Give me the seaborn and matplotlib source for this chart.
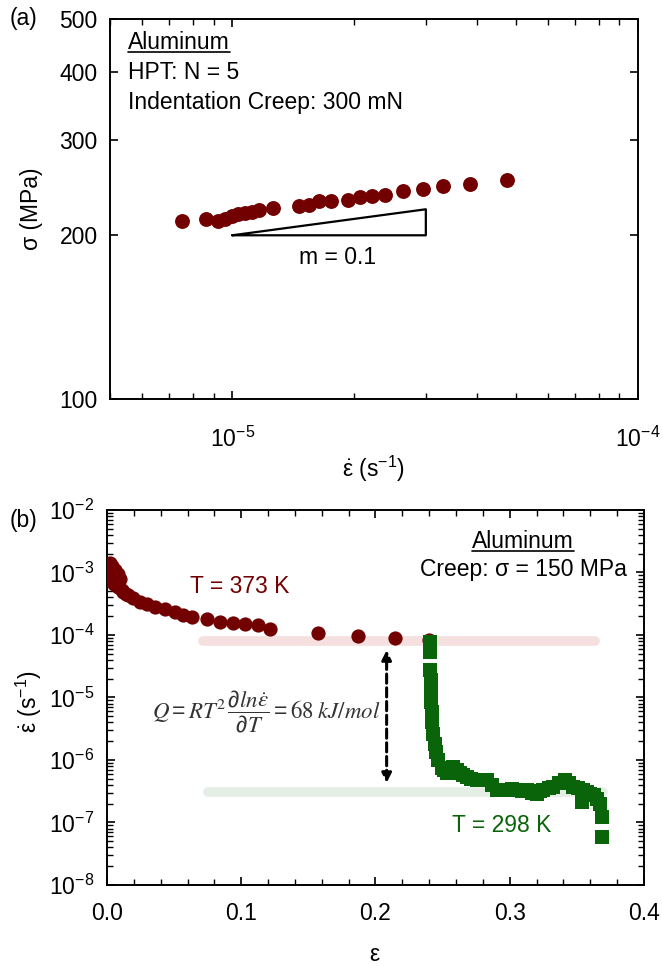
import numpy as np
import pandas as pd
import matplotlib
matplotlib.use("Agg")
import matplotlib.pyplot as plt
import seaborn as sns
from matplotlib.lines import Line2D
from matplotlib.ticker import FixedLocator, FixedFormatter, NullFormatter, MultipleLocator, FormatStrFormatter, LogLocator

# ---------------- data: panel (a) ----------------
rate_a = [7.54e-6, 8.63e-6, 9.25e-6, 9.61e-6, 1.00e-5, 1.036e-5, 1.077e-5, 1.118e-5,
          1.161e-5, 1.264e-5, 1.462e-5, 1.542e-5, 1.632e-5, 1.753e-5, 1.934e-5,
          2.066e-5, 2.208e-5, 2.382e-5, 2.642e-5, 2.958e-5, 3.314e-5, 3.855e-5, 4.75e-5]
stress_a = [212.1, 214.2, 212.7, 214.5, 216.7, 218.8, 219.4, 220.8, 222.9, 224.5, 226.1,
            227.7, 231.0, 231.6, 232.6, 234.9, 235.9, 237.5, 241.0, 243.4, 246.2, 248.6, 253.2]
tri_rate = [1e-5, 3e-5, 3e-5, 1e-5]
tri_stress = [200, 200, 223.3, 200]
xticks_a = [1e-5, 1e-4]
xticklabels_a = [r"$10^{-5}$", r"$10^{-4}$"]
yticks_a = [100, 200, 300, 400, 500]

# ---------------- data: panel (b) ----------------
strain_373 = [0.0010, 0.0020, 0.0020, 0.0030, 0.0040, 0.0050, 0.0060, 0.0080, 0.0080, 0.0100,
              0.0110, 0.0121, 0.0140, 0.0159, 0.0196, 0.0246, 0.0296, 0.0358, 0.0432, 0.0507,
              0.0568, 0.0631, 0.0743, 0.0842, 0.0941, 0.1028, 0.1127, 0.1214, 0.1574, 0.1872,
              0.2145, 0.2400]
rate_373 = [1.00e-3, 1.40e-3, 8.5e-4, 7.2e-4, 1.25e-3, 6.5e-4, 1.10e-3, 9.5e-4, 5.8e-4, 8.0e-4,
            5.2e-4, 4.9e-4, 4.6e-4, 4.4e-4, 3.9e-4, 3.4e-4, 3.1e-4, 2.8e-4, 2.6e-4, 2.3e-4,
            2.1e-4, 1.96e-4, 1.80e-4, 1.63e-4, 1.57e-4, 1.50e-4, 1.45e-4, 1.23e-4, 1.09e-4, 9.6e-5,
            8.85e-5, 8.3e-5]
strain_298 = [0.2406, 0.2406, 0.2406, 0.2410, 0.2413, 0.2417, 0.2421, 0.2424, 0.2432, 0.2443,
              0.2454, 0.2468, 0.2493, 0.2510, 0.2530, 0.2555, 0.2580, 0.2605, 0.2630, 0.2655,
              0.2680, 0.2715, 0.2754, 0.2790, 0.2828, 0.2865, 0.2903, 0.2940, 0.2977, 0.3015,
              0.3052, 0.3090, 0.3126, 0.3165, 0.3201, 0.3225, 0.3250, 0.3290, 0.3324, 0.3370,
              0.3412, 0.3440, 0.3473, 0.3510, 0.3540, 0.3548, 0.3575, 0.3598, 0.3625, 0.3648,
              0.3672, 0.3685, 0.3685]
rate_298 = [7.8e-5, 5.4e-5, 2.75e-5, 1.91e-5, 1.37e-5, 8.5e-6, 5.9e-6, 4.1e-6, 2.6e-6, 1.8e-6,
            1.34e-6, 1.0e-6, 7.4e-7, 6.8e-7, 6.1e-7, 7.1e-7, 7.8e-7, 6.9e-7, 6.1e-7, 5.75e-7,
            5.4e-7, 5.0e-7, 4.8e-7, 4.7e-7, 4.8e-7, 4.0e-7, 3.3e-7, 3.3e-7, 3.3e-7, 3.4e-7,
            3.3e-7, 3.2e-7, 3.3e-7, 3.0e-7, 2.9e-7, 3.2e-7, 3.3e-7, 3.55e-7, 3.7e-7, 4.3e-7,
            4.8e-7, 4.2e-7, 3.7e-7, 3.5e-7, 2.1e-7, 3.3e-7, 3.1e-7, 2.9e-7, 2.7e-7, 2.4e-7,
            2.0e-7, 1.24e-7, 5.9e-8]
band_373_strain = [0.0715, 0.3635]
band_373_rate = [8.1e-5, 8.1e-5]
band_298_strain = [0.0752, 0.3695]
band_298_rate = [3.04e-7, 3.04e-7]
arrow_strain = 0.2083
arrow_rates = [5.7e-5, 4.3e-7]
yticks_b = [1e-8, 1e-7, 1e-6, 1e-5, 1e-4, 1e-3, 1e-2]
yticklabels_b = [r"$10^{-8}$", r"$10^{-7}$", r"$10^{-6}$", r"$10^{-5}$", r"$10^{-4}$", r"$10^{-3}$", r"$10^{-2}$"]

# ---------------- style ----------------
sns.set_style("white")
plt.rcParams["font.family"] = ["Liberation Sans", "DejaVu Sans"]
plt.rcParams["mathtext.default"] = "regular"
plt.rcParams["axes.unicode_minus"] = False
plt.rcParams["axes.linewidth"] = 1.4
plt.rcParams["axes.edgecolor"] = "black"
plt.rcParams["text.color"] = "black"
plt.rcParams["axes.labelcolor"] = "black"
plt.rcParams["xtick.color"] = "black"
plt.rcParams["ytick.color"] = "black"

RED = "#720000"
GREEN = "#0a640a"
FS = 16.5

fig = plt.figure(figsize=(6.62, 9.66), dpi=100)
ax1 = fig.add_axes([0.1662, 0.5870, 0.7976, 0.3934])
ax2 = fig.add_axes([0.1616, 0.0839, 0.8112, 0.3882])

# ---------------- panel (a) ----------------
dfa = pd.DataFrame({"rate": rate_a, "stress": stress_a})
sns.scatterplot(data=dfa, x="rate", y="stress", ax=ax1, color=RED, s=115,
                linewidth=0, zorder=3)
ax1.plot(tri_rate, tri_stress, color="black", lw=1.6, zorder=2)
ax1.set_xscale("log")
ax1.set_yscale("log")
ax1.set_xlim(5e-6, 1e-4)
ax1.set_ylim(100, 500)
ax1.xaxis.set_major_locator(FixedLocator(xticks_a))
ax1.xaxis.set_major_formatter(FixedFormatter(xticklabels_a))
ax1.xaxis.set_minor_locator(LogLocator(base=10, subs=np.arange(2, 10)))
ax1.xaxis.set_minor_formatter(NullFormatter())
ax1.yaxis.set_major_locator(FixedLocator(yticks_a))
ax1.yaxis.set_major_formatter(FormatStrFormatter("%d"))
ax1.yaxis.set_minor_locator(FixedLocator([]))
ax1.yaxis.set_minor_formatter(NullFormatter())

# ---------------- panel (b) ----------------
ax2.plot(band_373_strain, band_373_rate, color="#d06060", alpha=0.2, lw=7, solid_capstyle="round", zorder=1)
ax2.plot(band_298_strain, band_298_rate, color="#5a9a5a", alpha=0.16, lw=7, solid_capstyle="round", zorder=1)
df373 = pd.DataFrame({"strain": strain_373, "rate": rate_373})
df298 = pd.DataFrame({"strain": strain_298, "rate": rate_298})
sns.scatterplot(data=df373, x="strain", y="rate", ax=ax2, color=RED, s=105, linewidth=0, zorder=3)
sns.scatterplot(data=df298, x="strain", y="rate", ax=ax2, color=GREEN, marker="s", s=95, linewidth=0, zorder=3)
ax2.annotate("", xy=(arrow_strain, arrow_rates[0]), xytext=(arrow_strain, arrow_rates[1]),
             arrowprops=dict(arrowstyle="<|-|>", color="black", lw=2.2, linestyle=(0, (3, 1.5)),
                             mutation_scale=14, shrinkA=0, shrinkB=0), zorder=4)
ax2.set_yscale("log")
ax2.set_xlim(0, 0.4)
ax2.set_ylim(1e-8, 1e-2)
ax2.xaxis.set_major_locator(MultipleLocator(0.1))
ax2.xaxis.set_major_formatter(FormatStrFormatter("%.1f"))
ax2.xaxis.set_minor_locator(MultipleLocator(0.02))
ax2.yaxis.set_major_locator(FixedLocator(yticks_b))
ax2.yaxis.set_major_formatter(FixedFormatter(yticklabels_b))
ax2.yaxis.set_minor_locator(LogLocator(base=10, subs=np.arange(2, 10), numticks=20))
ax2.yaxis.set_minor_formatter(NullFormatter())

for ax in (ax1, ax2):
    ax.xaxis.set_ticks_position("both")
    ax.yaxis.set_ticks_position("both")
    ax.tick_params(which="both", direction="in", top=True, right=True, bottom=True, left=True,
                   color="black", labelcolor="black")
    ax.tick_params(which="major", length=6, width=1.2, labelsize=FS)
    ax.tick_params(which="minor", length=4, width=1.0)
    ax.tick_params(axis="y", which="major", pad=9)
    ax.tick_params(labeltop=False, labelright=False)
ax1.tick_params(axis="x", which="major", pad=20)
ax2.tick_params(axis="x", which="major", pad=12)

ax1.set_xlabel(r"$\dot{\varepsilon}$ (s$^{-1}$)", fontsize=FS)
ax1.set_ylabel("σ (MPa)", fontsize=FS)
ax1.xaxis.set_label_coords(0.498, -0.145)
ax1.yaxis.set_label_coords(-0.127, 0.5)
t_al1 = ax1.text(0.034, 0.937, "Aluminum", transform=ax1.transAxes, fontsize=FS, va="center")
ax1.text(0.034, 0.858, "HPT: N = 5", transform=ax1.transAxes, fontsize=FS, va="center")
ax1.text(0.034, 0.779, "Indentation Creep: 300 mN", transform=ax1.transAxes, fontsize=FS, va="center")
ax1.text(1.82e-5, 182, "m = 0.1", fontsize=FS, ha="center", va="center")

ax2.set_xlabel("ε", fontsize=FS)
ax2.set_ylabel(r"$\dot{\varepsilon}$ (s$^{-1}$)", fontsize=FS)
ax2.xaxis.set_label_coords(0.498, -0.155)
ax2.yaxis.set_label_coords(-0.118, 0.49)
t_al2 = ax2.text(0.775, 0.915, "Aluminum", transform=ax2.transAxes, fontsize=FS, ha="center", va="center")
ax2.text(0.775, 0.84, "Creep: σ = 150 MPa", transform=ax2.transAxes, fontsize=FS, ha="center", va="center")
ax2.text(0.0618, 5.9e-4, "T = 373 K", color=RED, fontsize=FS, ha="left", va="center")
ax2.text(0.2567, 9.1e-8, "T = 298 K", color=GREEN, fontsize=FS, ha="left", va="center")
ax2.text(0.2034, 5.9e-6,
         r"$\mathit{Q} = \mathit{RT}^{\mathrm{2}}\,\dfrac{\partial \mathit{ln}\dot{\mathit{\varepsilon}}}{\partial \mathit{T}} = \mathrm{68}\;\mathit{kJ/mol}$",
         fontsize=16.5, ha="right", va="center", color="#333333", math_fontfamily="stix")

fig.text(0.015, 1 - 18 / 966, "(a)", fontsize=FS, va="center")
fig.text(0.015, 1 - 520 / 966, "(b)", fontsize=FS, va="center")

# underline the "Aluminum" headings
fig.canvas.draw()
rend = fig.canvas.get_renderer()
inv = fig.transFigure.inverted()
for t in (t_al1, t_al2):
    bb = t.get_window_extent(renderer=rend)
    (x0, y0), (x1, _) = inv.transform([(bb.x0, bb.y0 + 2), (bb.x1, bb.y0)])
    fig.add_artist(Line2D([x0, x1], [y0, y0], transform=fig.transFigure, color="black", lw=1.2))

fig.savefig("out.png", dpi=100)
